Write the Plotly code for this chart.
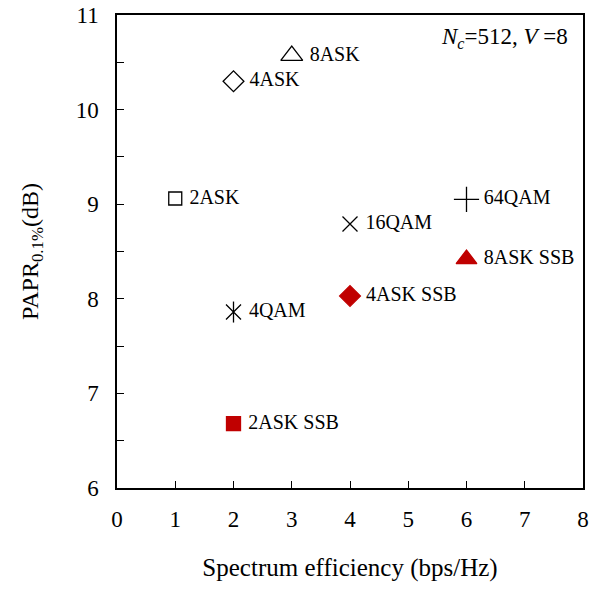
import plotly.graph_objects as go

labels = ["2ASK", "4ASK", "8ASK", "4QAM", "16QAM", "64QAM", "2ASK SSB", "4ASK SSB", "8ASK SSB"]
x_vals = [1, 2, 3, 2, 4, 6, 2, 4, 6]
y_vals = [9.06, 10.30, 10.57, 7.86, 8.79, 9.05, 6.68, 8.03, 8.42]
symbols = ["square-open", "diamond-open", "triangle-up-open", "x-thin-open", "x-thin-open",
           "cross-thin-open", "square", "diamond", "triangle-up"]
sizes = [13, 16, 19, 15, 15, 18, 14, 16, 18]
colors = ["black"] * 6 + ["#C00000"] * 3

FONT = "Liberation Serif, Times New Roman, serif"

fig = go.Figure()
for lab, x, y, s, sz, c in zip(labels, x_vals, y_vals, symbols, sizes, colors):
    fig.add_trace(go.Scatter(
        x=[x], y=[y], mode="markers+text", text=[" " + lab], textposition="middle right",
        textfont=dict(family=FONT, size=20, color="black"),
        marker=dict(symbol=s, size=sz, color=c, line=dict(color=c, width=1.3)),
        showlegend=False, cliponaxis=False))
    if lab == "4QAM":
        fig.add_trace(go.Scatter(
            x=[x], y=[y], mode="markers",
            marker=dict(symbol="line-ns-open", size=sz, color=c, line=dict(color=c, width=1.3)),
            showlegend=False))

fig.add_annotation(text="<i>N<sub>c</sub></i>=512, <i>V</i> =8", x=0.972, y=0.985,
                   xref="paper", yref="paper", xanchor="right", yanchor="top",
                   showarrow=False, font=dict(family=FONT, size=23, color="black"))

fig.update_layout(
    width=611, height=592,
    margin=dict(l=117, r=28, t=15, b=104),
    paper_bgcolor="white", plot_bgcolor="white",
    font=dict(family=FONT, size=22, color="black"),
    xaxis=dict(range=[0, 8], dtick=1, tick0=0, showgrid=False, zeroline=False,
               showline=True, linecolor="black", linewidth=1.5, mirror=True,
               ticks="inside", ticklen=7, tickcolor="black", automargin=False,
               tickfont=dict(family=FONT, size=23), ticklabelstandoff=10,
               ticklabeloverflow="allow",
               title=dict(text="Spectrum efficiency (bps/Hz)", font=dict(family=FONT, size=25), standoff=27)),
    yaxis=dict(range=[6, 11], dtick=1, tick0=6, showgrid=False, zeroline=False,
               showline=True, linecolor="black", linewidth=1.5, mirror=True,
               ticks="inside", ticklen=7, tickcolor="black", automargin=False,
               minor=dict(dtick=0.5, ticks="inside", ticklen=7, tickcolor="black", showgrid=False),
               tickfont=dict(family=FONT, size=23), ticklabelstandoff=12,
               ticklabeloverflow="allow",
               title=dict(text="PAPR<sub>0.1%</sub>(dB)", font=dict(family=FONT, size=24), standoff=30)),
)

fig.write_html("out.html", config={"displayModeBar": False},
               post_script="document.body.style.margin='0';")
